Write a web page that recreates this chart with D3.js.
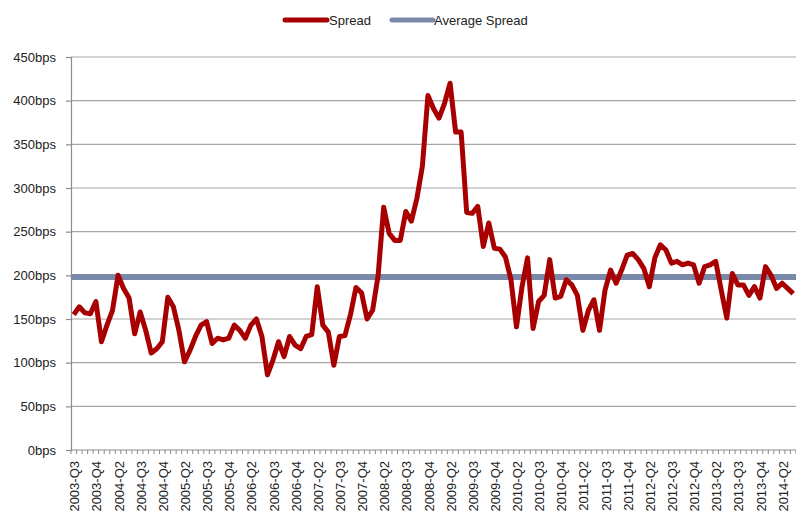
<!DOCTYPE html>
<html>
<head>
<meta charset="utf-8">
<script src="https://cdn.jsdelivr.net/npm/d3@7"></script>
<style>
  html, body { margin: 0; padding: 0; background: #fff; }
  svg { display: block; font-family: "Liberation Sans", Arial, sans-serif; }
</style>
</head>
<body>
<svg id="chart" width="796" height="519"></svg>
<script>
// ---- data ----
const startYear = 2003, startMonth = 8; // first category: Aug 2003, monthly
const nMonths = 131;
const categories = [];
for (let i = 0; i < nMonths; i++) {
  const m = startMonth - 1 + i;
  const yr = startYear + Math.floor(m / 12);
  const mo = (m % 12) + 1;
  categories.push(yr + "-" + String(mo).padStart(2, "0"));
}

const tickLabels = [
  "2003-Q3","2003-Q4","2004-Q2","2004-Q3","2004-Q4","2005-Q2","2005-Q3","2005-Q4",
  "2006-Q2","2006-Q3","2006-Q4","2007-Q2","2007-Q3","2007-Q4","2008-Q2","2008-Q3",
  "2008-Q4","2009-Q2","2009-Q3","2009-Q4","2010-Q2","2010-Q3","2010-Q4","2011-Q2",
  "2011-Q3","2011-Q4","2012-Q2","2012-Q3","2012-Q4","2013-Q2","2013-Q3","2013-Q4",
  "2014-Q2"
];
const labelEvery = 4;

const spread = [
  155,164,157,156,170,124,143,160,200,185,
  174,133,158,137,111,116,124,175,164,137,
  101,114,130,143,147,122,128,126,128,143,
  137,128,143,150,130,86,103,124,107,130,
  120,116,130,132,187,143,135,97,130,131,
  155,186,180,150,160,200,278,248,240,240,
  273,262,288,325,406,391,380,397,420,364,
  364,272,271,279,233,260,231,230,221,195,
  141,187,220,139,170,177,218,174,176,195,
  189,177,137,160,172,137,183,206,191,206,
  223,225,218,208,187,220,235,229,214,216,
  212,214,212,191,210,212,216,183,151,202,
  189,189,177,187,174,210,200,185,191,185,
  179
];
const averageSpread = 198;

const yTicks = [0, 50, 100, 150, 200, 250, 300, 350, 400, 450];
const seriesNames = ["Spread", "Average Spread"];
const seriesColors = ["#A80000", "#7B89A9"];

// ---- layout ----
const svg = d3.select("#chart");
const plotLeft = 71, plotRight = 796, plotTop = 57, plotBottom = 450;

const x = d3.scaleBand().domain(categories).range([plotLeft, plotLeft + 5.534 * nMonths]).padding(0);
const y = d3.scaleLinear().domain([0, 450]).range([plotBottom, plotTop]);
const cx = c => x(c) + x.bandwidth() / 2;

svg.append("rect").attr("width", 796).attr("height", 519).attr("fill", "#fff");

// gridlines
svg.append("g").selectAll("line").data(yTicks.filter(d => d > 0)).join("line")
  .attr("x1", plotLeft).attr("x2", plotRight)
  .attr("y1", d => y(d)).attr("y2", d => y(d))
  .attr("stroke", "#a6a6a6").attr("stroke-width", 1.2);

// y axis
const yAxis = d3.axisLeft(y).tickValues(yTicks).tickFormat(d => d + "bps").tickSize(5).tickPadding(10);
const yg = svg.append("g").attr("transform", `translate(${plotLeft},0)`).call(yAxis);
yg.select(".domain").attr("stroke", "#8c8c8c").attr("stroke-width", 1.2);
yg.selectAll(".tick line").attr("stroke", "#8c8c8c").attr("stroke-width", 1.2);
yg.selectAll(".tick text").attr("font-size", 13).attr("fill", "#222")
  .attr("font-family", "Liberation Sans, Arial, sans-serif");

// x axis baseline
svg.append("line").attr("x1", plotLeft).attr("x2", plotRight).attr("y1", y(0)).attr("y2", y(0))
  .attr("stroke", "#8c8c8c").attr("stroke-width", 1.2);

// minor ticks at category boundaries
const bounds = categories.map(c => x(c)).concat([x(categories[categories.length - 1]) + x.bandwidth()]);
svg.append("g").selectAll("line").data(bounds).join("line")
  .attr("x1", d => d).attr("x2", d => d)
  .attr("y1", y(0)).attr("y2", y(0) + 4)
  .attr("stroke", "#8c8c8c").attr("stroke-width", 1);

// x labels
const labelCats = categories.filter((d, i) => i % labelEvery === 0).slice(0, tickLabels.length);
svg.append("g").selectAll("text").data(labelCats).join("text")
  .attr("transform", d => `translate(${cx(d) + 1},461) rotate(-90)`)
  .attr("text-anchor", "end").attr("dy", "0.35em")
  .attr("font-size", 13).attr("fill", "#222")
  .text((d, i) => tickLabels[i]);

// average line
svg.append("line")
  .attr("x1", plotLeft).attr("x2", plotRight)
  .attr("y1", y(averageSpread)).attr("y2", y(averageSpread))
  .attr("stroke", seriesColors[1]).attr("stroke-width", 6);

// spread line
const line = d3.line().x((d, i) => cx(categories[i])).y(d => y(d));
svg.append("path").datum(spread)
  .attr("d", line).attr("fill", "none")
  .attr("stroke", seriesColors[0]).attr("stroke-width", 5)
  .attr("stroke-linejoin", "round").attr("stroke-linecap", "butt");

// legend
const legend = [
  { name: seriesNames[0], color: seriesColors[0], x1: 285, x2: 327, tx: 329, w: 5 },
  { name: seriesNames[1], color: seriesColors[1], x1: 392, x2: 433, tx: 434, w: 5 }
];
const lg = svg.append("g");
lg.selectAll("line").data(legend).join("line")
  .attr("x1", d => d.x1).attr("x2", d => d.x2).attr("y1", 20).attr("y2", 20)
  .attr("stroke", d => d.color).attr("stroke-width", d => d.w).attr("stroke-linecap", "round");
lg.selectAll("text").data(legend).join("text")
  .attr("x", d => d.tx).attr("y", 20).attr("dy", "0.35em")
  .attr("font-size", 13).attr("fill", "#222")
  .text(d => d.name);
</script>
</body>
</html>
